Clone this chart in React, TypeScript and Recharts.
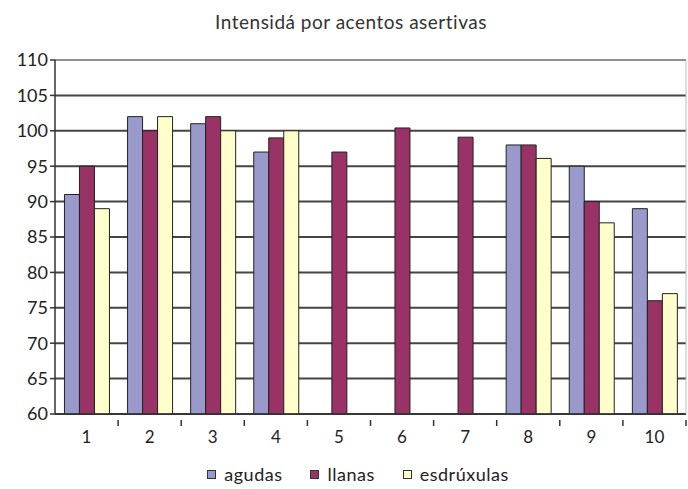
import React from "react";
import { BarChart, Bar, XAxis, YAxis, CartesianGrid, ReferenceLine } from "recharts";

const categories = ["1", "2", "3", "4", "5", "6", "7", "8", "9", "10"];
const agudas = [91, 102, 101, 97, null, null, null, 98, 95, 89];
const llanas = [95, 100, 102, 99, 97, 100.4, 99.1, 98, 90, 76];
const esdruxulas = [89, 102, 100, 100, null, null, null, 96.1, 87, 77];
const yTicks = [60, 65, 70, 75, 80, 85, 90, 95, 100, 105, 110];

const series = [
  { key: "agudas", color: "#9999cc" },
  { key: "llanas", color: "#993366" },
  { key: "esdrúxulas", color: "#ffffcc" },
];

const data = categories.map((c, i) => ({
  name: c,
  agudas: agudas[i],
  llanas: llanas[i],
  esdrúxulas: esdruxulas[i],
}));

const FONT = "Lato, 'Open Sans', sans-serif";

const XTick = (props: any) => {
  const { x, y, payload, width } = props;
  const half = width / categories.length / 2;
  return (
    <g>
      <line x1={x + half} x2={x + half} y1={y - 2} y2={y + 4} stroke="#333" strokeWidth={1.5} />
      <text x={x} y={y + 21} textAnchor="middle" fontSize={17} fill="#222" fontFamily={FONT}>
        {payload.value}
      </text>
    </g>
  );
};

export default function App() {
  return (
    <div style={{ position: "absolute", left: 0, top: 0, width: 688, height: 489, background: "#fff" }}>
      <div
        style={{
          position: "absolute",
          top: 10,
          left: 0,
          width: 702,
          textAlign: "center",
          fontFamily: FONT,
          fontSize: 19,
          color: "#333",
          letterSpacing: 0.5,
        }}
      >
        Intensidá por acentos asertivas
      </div>
      <BarChart
        width={688}
        height={489}
        data={data}
        margin={{ top: 60, right: 1, left: 0, bottom: 45 }}
        barCategoryGap="15%"
        barGap={0}
      >
        <CartesianGrid vertical={false} stroke="#444" strokeWidth={2} />
        <XAxis
          dataKey="name"
          axisLine={{ stroke: "#333", strokeWidth: 1.5 }}
          tickLine={false}
          tick={<XTick />}
          height={30}
          interval={0}
        />
        <YAxis
          domain={[60, 110]}
          ticks={yTicks}
          width={55}
          axisLine={{ stroke: "#333", strokeWidth: 1.5 }}
          tickLine={{ stroke: "#333", strokeWidth: 1.5 }}
          tickSize={5}
          tick={{ fontSize: 18, fill: "#222", fontFamily: FONT }}
          interval={0}
        />
        <YAxis yAxisId="r" orientation="right" width={1} tick={false} tickLine={false} axisLine={{ stroke: "#bbb" }} />
        <ReferenceLine y={110} stroke="#aaa" strokeWidth={1.5} />
        {series.map((s) => (
          <Bar key={s.key} dataKey={s.key} fill={s.color} stroke="#222" strokeWidth={1} isAnimationActive={false} />
        ))}
      </BarChart>
      <div
        style={{
          position: "absolute",
          top: 463,
          left: 0,
          width: 716,
          display: "flex",
          justifyContent: "center",
          gap: 28,
          fontFamily: FONT,
          fontSize: 18,
          color: "#222",
          letterSpacing: 0.5,
        }}
      >
        {series.map((s) => (
          <span key={s.key} style={{ display: "flex", alignItems: "center" }}>
            <span style={{ width: 7, height: 7, background: s.color, border: "1px solid #333", marginRight: 8 }} />
            {s.key}
          </span>
        ))}
      </div>
    </div>
  );
}
